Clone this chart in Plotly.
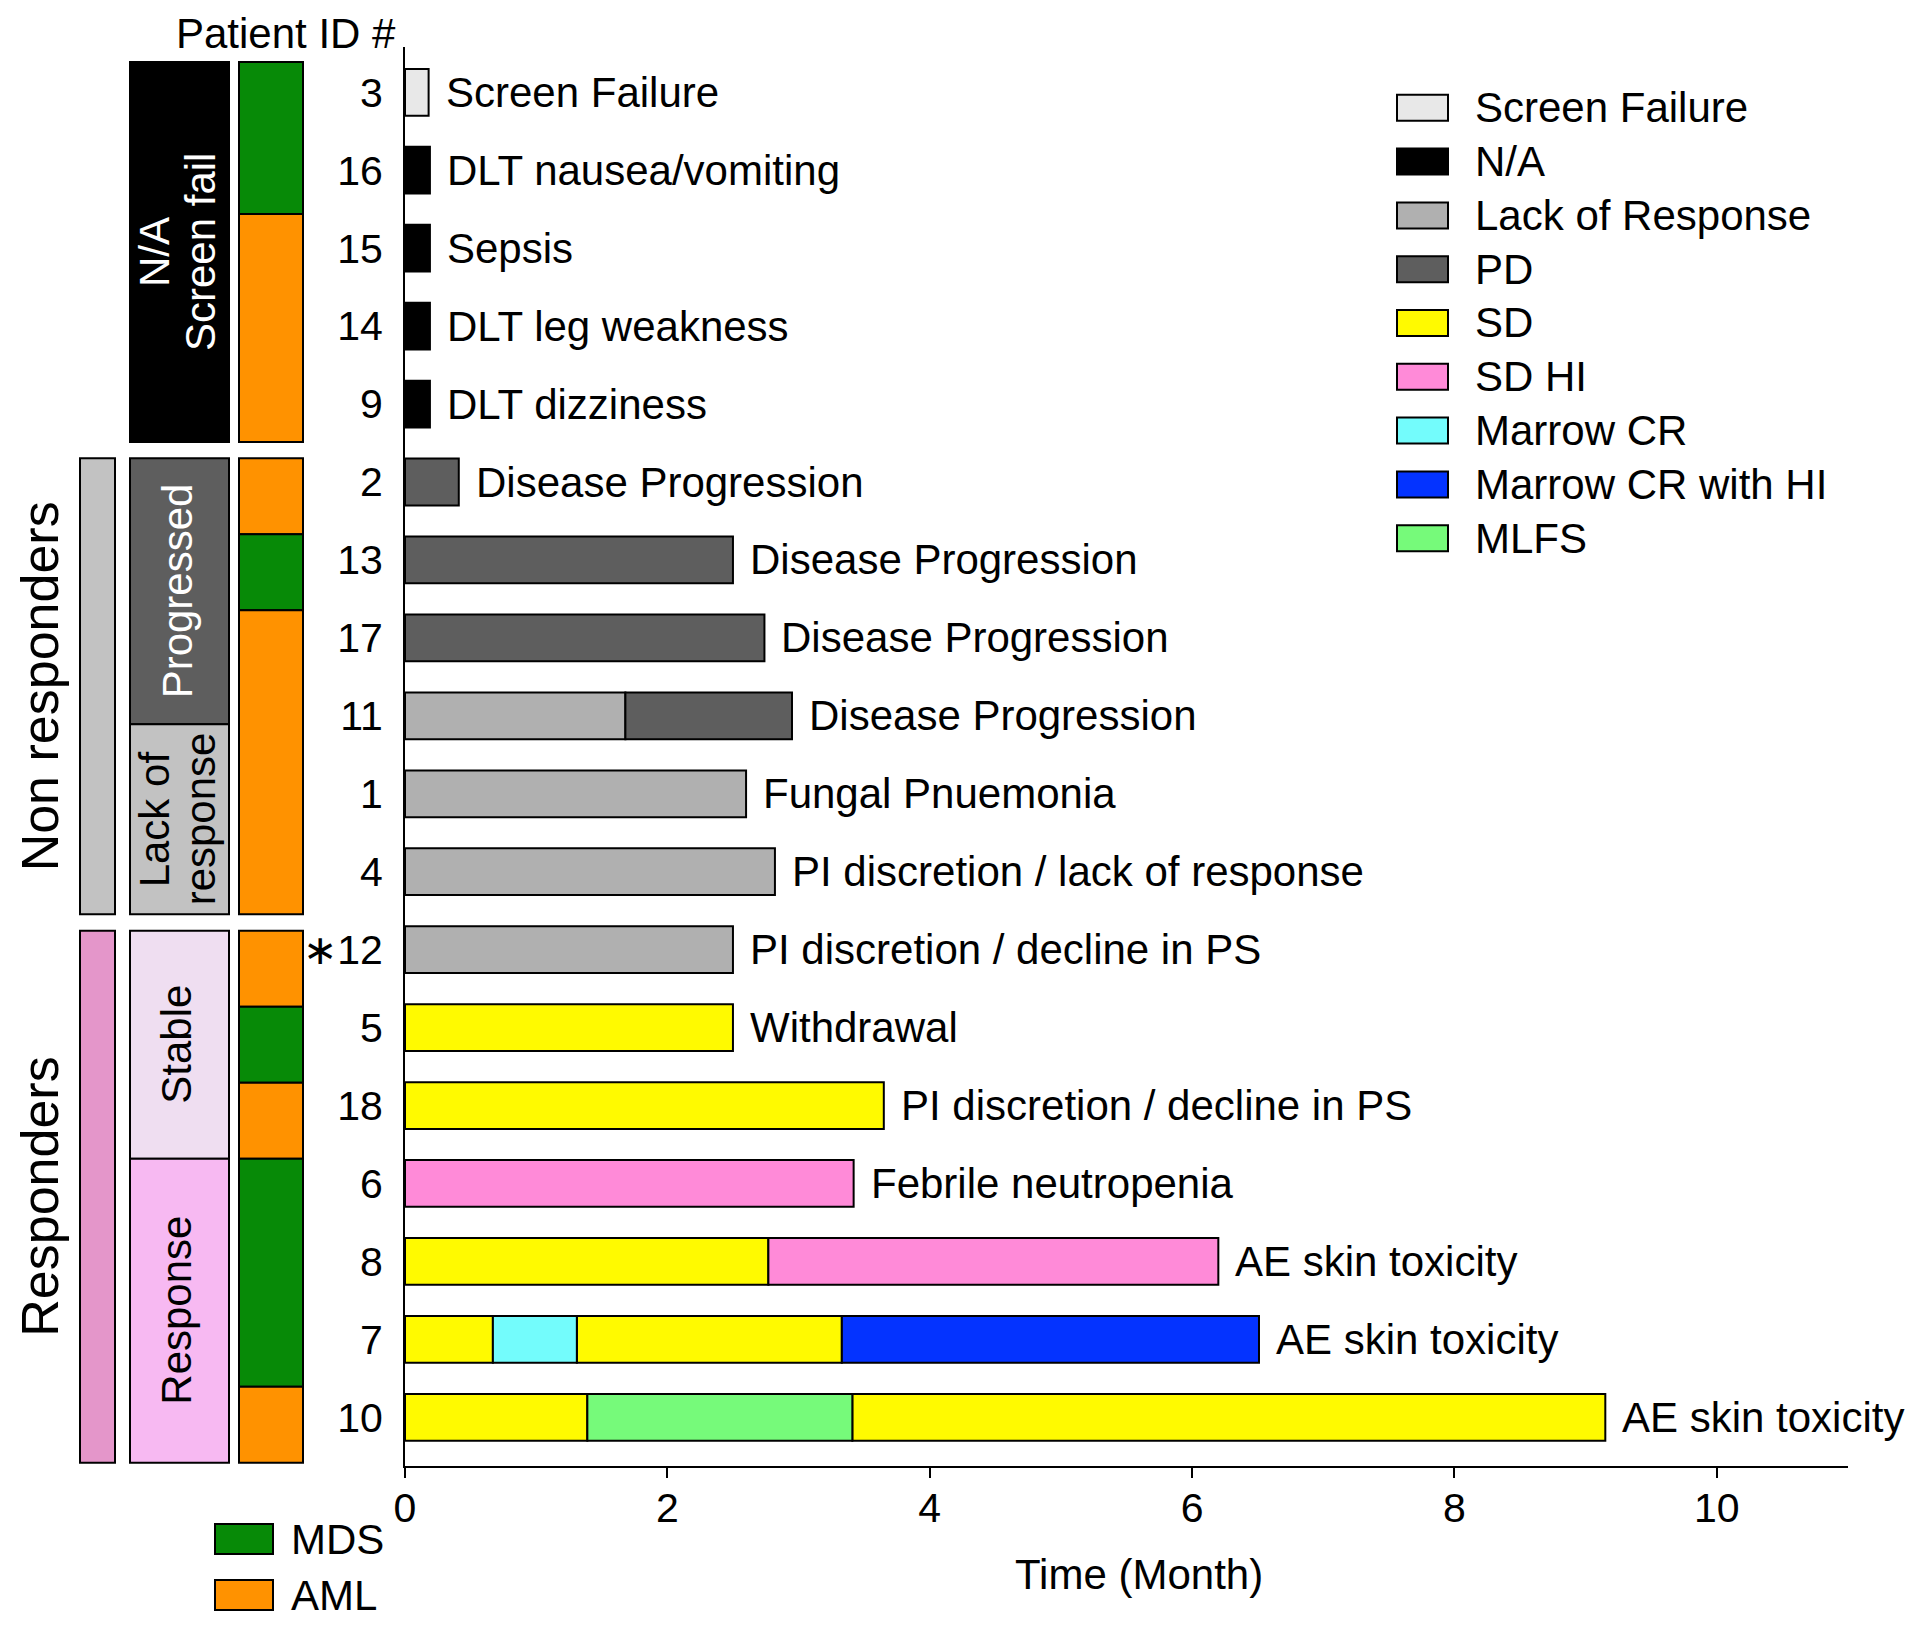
import plotly.graph_objects as go

# ---------------- data ----------------
patient_ids = ["3", "16", "15", "14", "9", "2", "13", "17", "11", "1", "4",
               "12", "5", "18", "6", "8", "7", "10"]
id_marks = ["", "", "", "", "", "", "", "", "", "", "",
            "∗", "", "", "", "", "", ""]
disease = ["MDS", "MDS", "AML", "AML", "AML", "AML", "MDS", "AML", "AML", "AML", "AML",
           "AML", "MDS", "AML", "MDS", "MDS", "MDS", "AML"]
segment_states = [
    ["Screen Failure"], ["N/A"], ["N/A"], ["N/A"], ["N/A"],
    ["PD"], ["PD"], ["PD"], ["Lack of Response", "PD"], ["Lack of Response"], ["Lack of Response"],
    ["Lack of Response"], ["SD"], ["SD"], ["SD HI"], ["SD", "SD HI"],
    ["SD", "Marrow CR", "SD", "Marrow CR with HI"], ["SD", "MLFS", "SD"],
]
segment_ends = [
    [0.18], [0.19], [0.19], [0.19], [0.19],
    [0.41], [2.50], [2.74], [1.68, 2.95], [2.60], [2.82],
    [2.50], [2.50], [3.65], [3.42], [2.77, 6.20],
    [0.67, 1.31, 3.33, 6.51], [1.39, 3.41, 9.15],
]
end_reasons = ["Screen Failure", "DLT nausea/vomiting", "Sepsis", "DLT leg weakness", "DLT dizziness",
               "Disease Progression", "Disease Progression", "Disease Progression", "Disease Progression",
               "Fungal Pnuemonia", "PI discretion / lack of response", "PI discretion / decline in PS",
               "Withdrawal", "PI discretion / decline in PS", "Febrile neutropenia",
               "AE skin toxicity", "AE skin toxicity", "AE skin toxicity"]
outcome_groups = ["", "Non responders", "Responders"]
outcome_group_counts = [5, 6, 7]
outcome_subgroups = [["N/A", "Screen fail"], ["Progressed"], ["Lack of", "response"], ["Stable"], ["Response"]]
outcome_subgroup_counts = [5, 3.5, 2.5, 3, 4]
state_order = ["Screen Failure", "N/A", "Lack of Response", "PD", "SD", "SD HI",
               "Marrow CR", "Marrow CR with HI", "MLFS"]
disease_order = ["MDS", "AML"]
x_ticks = [0, 2, 4, 6, 8, 10]

# ---------------- style ----------------
OFF = 8                      # page body margin
W, H = 1920 - 2 * OFF, 1627 - 2 * OFF
FONT = "Liberation Sans, Arial, sans-serif"
FS = 42
TFS = 41
GFS = 52
state_colors = {
    "Screen Failure": "#E8E8E8", "N/A": "#000000", "Lack of Response": "#B0B0B0",
    "PD": "#5E5E5E", "SD": "#FFFA00", "SD HI": "#FF8AD8", "Marrow CR": "#73FCFC",
    "Marrow CR with HI": "#0433FF", "MLFS": "#76FA7A",
}
disease_colors = {"MDS": "#078A07", "AML": "#FF9200"}
group_colors = {"Non responders": "#C2C2C2", "Responders": "#E496CA"}
subgroup_fill = ["#000000", "#5E5E5E", "#C2C2C2", "#EFDEF1", "#F7B9F2"]
subgroup_text = ["white", "white", "black", "black", "black"]


def px(x):
    return (x - OFF) / W


def py(y):
    return 1 - (y - OFF) / H


# plot area in page pixels
X0, X1 = 405, 1848
Y0, Y1 = 46.5, 1466
ROW0, ROWSTEP = 92.3, 77.94
# left panel units
P_TOP, P_UNIT, P_GAP = 62, 76.0, 16.35

fig = go.Figure()
rows = list(range(len(patient_ids)))

for st in state_order:
    xs, bases, ys = [], [], []
    for i, (sts, ends) in enumerate(zip(segment_states, segment_ends)):
        start = 0
        for s, e in zip(sts, ends):
            if s == st:
                xs.append(e - start)
                bases.append(start)
                ys.append(i)
            start = e
    if xs:
        fig.add_trace(go.Bar(
            x=xs, base=bases, y=ys, orientation="h", width=0.6, name=st,
            marker=dict(color=state_colors[st], line=dict(color="black", width=2)),
            showlegend=False, hoverinfo="name+x",
        ))

annotations = []
shapes = []

# end reason labels
for i, (ends, reason) in enumerate(zip(segment_ends, end_reasons)):
    annotations.append(dict(x=ends[-1], y=i, xref="x", yref="y", text=reason,
                            showarrow=False, xanchor="left", yanchor="middle", xshift=15,
                            font=dict(size=FS, color="black", family=FONT)))

# ---- left panel (y2 units) ----
gap_u = P_GAP / P_UNIT
row_group = []
for g, c in enumerate(outcome_group_counts):
    row_group += [g] * c


def pan(k, g):
    return k + g * gap_u


# outcome group column A
k = 0
for g, (name, c) in enumerate(zip(outcome_groups, outcome_group_counts)):
    if name:
        y_a, y_b = pan(k, g), pan(k + c, g)
        shapes.append(dict(type="rect", xref="paper", yref="y2", x0=px(80), x1=px(115),
                           y0=y_a, y1=y_b, fillcolor=group_colors[name],
                           line=dict(color="black", width=2), layer="above"))
        annotations.append(dict(x=px(40), y=(y_a + y_b) / 2, xref="paper", yref="y2",
                                text=name, textangle=-90, showarrow=False, borderpad=0,
                                xanchor="center", yanchor="middle",
                                font=dict(size=GFS, color="black", family=FONT)))
    k += c

# subgroup column B
k = 0
for j, (lines, c) in enumerate(zip(outcome_subgroups, outcome_subgroup_counts)):
    g = row_group[int(k + 1e-6)]
    y_a, y_b = pan(k, g), pan(k + c, g)
    shapes.append(dict(type="rect", xref="paper", yref="y2", x0=px(130), x1=px(229),
                       y0=y_a, y1=y_b, fillcolor=subgroup_fill[j],
                       line=dict(color="black", width=2), layer="above"))
    n = len(lines)
    for li, t in enumerate(lines):
        xc = 177 + (li - (n - 1) / 2) * 46
        annotations.append(dict(x=px(xc), y=(y_a + y_b) / 2, xref="paper", yref="y2",
                                text=t, textangle=-90, showarrow=False,
                                xanchor="center", yanchor="middle",
                                font=dict(size=FS, color=subgroup_text[j], family=FONT)))
    k += c

# disease column C (merge consecutive rows in same group)
i = 0
while i < len(disease):
    j = i
    while j + 1 < len(disease) and disease[j + 1] == disease[i] and row_group[j + 1] == row_group[i]:
        j += 1
    g = row_group[i]
    shapes.append(dict(type="rect", xref="paper", yref="y2", x0=px(239), x1=px(303),
                       y0=pan(i, g), y1=pan(j + 1, g), fillcolor=disease_colors[disease[i]],
                       line=dict(color="black", width=2), layer="above"))
    i = j + 1

# ---- state legend (right) ----
leg_y0, leg_step = 107.8, 53.8
for n_, st in enumerate(state_order):
    yc = leg_y0 + n_ * leg_step
    shapes.append(dict(type="rect", xref="paper", yref="paper", x0=px(1397), x1=px(1448),
                       y0=py(yc - 13), y1=py(yc + 13), fillcolor=state_colors[st],
                       line=dict(color="black", width=2), layer="above"))
    annotations.append(dict(x=px(1473), y=py(yc), xref="paper", yref="paper", text=st,
                            showarrow=False, xanchor="left", yanchor="middle",
                            font=dict(size=FS, color="black", family=FONT)))

# ---- disease legend (bottom-left) ----
for n_, d in enumerate(disease_order):
    yc = 1539 + n_ * 56
    shapes.append(dict(type="rect", xref="paper", yref="paper", x0=px(215), x1=px(273),
                       y0=py(yc - 15), y1=py(yc + 15), fillcolor=disease_colors[d],
                       line=dict(color="black", width=2), layer="above"))
    annotations.append(dict(x=px(290), y=py(yc), xref="paper", yref="paper", text=d,
                            showarrow=False, xanchor="left", yanchor="middle", borderpad=0,
                            font=dict(size=FS, color="black", family=FONT)))

# titles
annotations.append(dict(x=px(286), y=py(33), xref="paper", yref="paper", text="Patient ID #",
                        showarrow=False, xanchor="center", yanchor="middle", borderpad=0,
                        font=dict(size=FS, color="black", family=FONT)))
annotations.append(dict(x=px(1139), y=py(1574), xref="paper", yref="paper", text="Time (Month)",
                        showarrow=False, xanchor="center", yanchor="middle",
                        font=dict(size=FS, color="black", family=FONT)))

y_top = (Y0 - ROW0) / ROWSTEP
y_bot = (Y1 - ROW0) / ROWSTEP
p_top = (Y0 - P_TOP) / P_UNIT
p_bot = (Y1 - P_TOP) / P_UNIT

fig.update_layout(
    width=W, height=H, autosize=False,
    margin=dict(l=0, r=0, t=0, b=0, pad=0),
    paper_bgcolor="white", plot_bgcolor="white",
    barmode="overlay",
    font=dict(family=FONT, size=FS, color="black"),
    xaxis=dict(domain=[px(X0), px(X1)], range=[0, 11], tickvals=x_ticks,
               ticks="outside", ticklen=10, tickwidth=2, tickcolor="black",
               showline=True, linecolor="black", linewidth=2, automargin=False,
               showgrid=False, zeroline=False, ticklabelstandoff=-5,
               tickfont=dict(size=TFS, color="black", family=FONT)),
    yaxis=dict(domain=[py(Y1), py(Y0)], range=[y_bot, y_top],
               tickvals=rows, ticktext=[m + p for m, p in zip(id_marks, patient_ids)],
               ticks="", showline=True, linecolor="black", linewidth=2, automargin=False,
               showgrid=False, zeroline=False, ticklabelstandoff=12,
               tickfont=dict(size=TFS, color="black", family=FONT)),
    yaxis2=dict(overlaying="y", range=[p_bot, p_top], visible=False, automargin=False,
                showgrid=False, zeroline=False),
    shapes=shapes,
    annotations=annotations,
    showlegend=False,
)

fig.write_html("out.html")
